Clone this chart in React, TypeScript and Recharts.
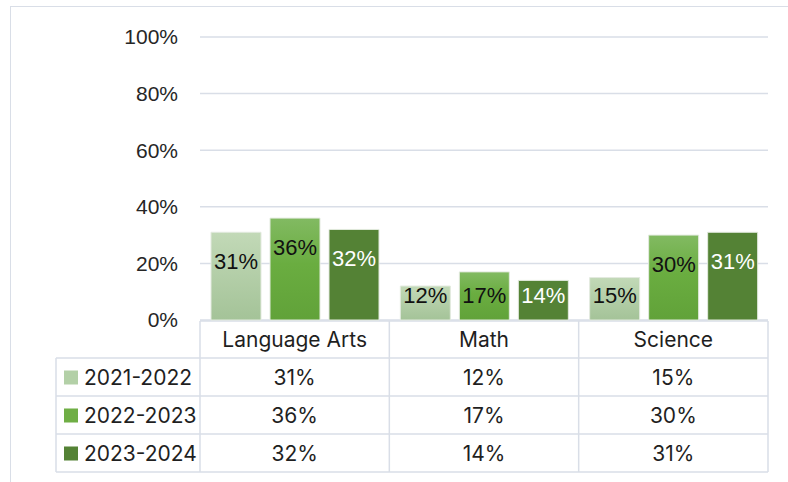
import React from "react";
import { BarChart, Bar, XAxis, YAxis, CartesianGrid, LabelList, Customized } from "recharts";

const subjects = ["Language Arts", "Math", "Science"];
const years = ["2021-2022", "2022-2023", "2023-2024"];
const y2122 = [31, 12, 15];
const y2223 = [36, 17, 30];
const y2324 = [32, 14, 31];
const yTicks = [0, 20, 40, 60, 80, 100];

const seriesValues = [y2122, y2223, y2324];
const seriesFill = ["url(#g1)", "url(#g2)", "#548235"];
const swatchFill = ["#b3d0a7", "#6fae45", "#548235"];
const labelColor = ["#111", "#111", "#fff"];

const data = subjects.map((s, i) => ({
  name: s,
  a: y2122[i],
  b: y2223[i],
  c: y2324[i],
}));

const W = 788;
const H = 482;
const M = { top: 37, right: 20, bottom: 162, left: 0 };
const AXIS_W = 200;
const LINE = "#d9dee7";
const TABLE_FONT = "Inter, 'Open Sans', sans-serif";

// bar value label, kept inside near the top
const makeLabel = (color: string) => (props: any) => {
  const { x, y, width, height, value } = props;
  const cy = Math.min(y + 29, y + height - 25);
  return (
    <text
      x={x + width / 2}
      y={cy}
      textAnchor="middle"
      dominantBaseline="central"
      fill={color}
      fontSize={22}
      fontFamily="'Liberation Sans', Arial, sans-serif"
    >
      {value}%
    </text>
  );
};

// data table under the plot
const DataTable = () => {
  const left = AXIS_W;
  const right = W - M.right;
  const top = H - M.bottom + 1;
  const colW = (right - left) / subjects.length;
  const headH = 37;
  const rowH = 38;
  const legL = 56;
  const rowsTop = top + headH;
  const bottom = rowsTop + rowH * years.length;
  const lines: React.ReactNode[] = [];

  lines.push(<line key="t" x1={left} x2={right} y1={top} y2={top} />);
  for (let r = 0; r <= years.length; r++) {
    const yy = rowsTop + r * rowH;
    lines.push(<line key={"h" + r} x1={legL} x2={right} y1={yy} y2={yy} />);
  }
  lines.push(<line key="vl" x1={legL} x2={legL} y1={rowsTop} y2={bottom} />);
  for (let c = 0; c <= subjects.length; c++) {
    const xx = left + c * colW;
    lines.push(<line key={"v" + c} x1={xx} x2={xx} y1={top} y2={bottom} />);
  }

  return (
    <g>
      <g stroke={LINE} strokeWidth={1.5}>{lines}</g>
      <g fontFamily={TABLE_FONT} fontSize={21} fill="#1f1f1f">
        {subjects.map((s, c) => (
          <text
            key={s}
            x={left + (c + 0.5) * colW}
            y={top + headH / 2}
            textAnchor="middle"
            dominantBaseline="central"
          >
            {s}
          </text>
        ))}
        {years.map((yr, r) => {
          const cy = rowsTop + (r + 0.5) * rowH;
          return (
            <g key={yr}>
              <rect x={64} y={cy - 6.5} width={14} height={14} fill={swatchFill[r]} />
              <text x={84} y={cy} dominantBaseline="central">
                {yr}
              </text>
              {seriesValues[r].map((v, c) => (
                <text
                  key={c}
                  x={left + (c + 0.5) * colW}
                  y={cy}
                  textAnchor="middle"
                  dominantBaseline="central"
                >
                  {v}%
                </text>
              ))}
            </g>
          );
        })}
      </g>
    </g>
  );
};

export default function App() {
  return (
    <div
      style={{
        position: "absolute",
        left: 0,
        top: 0,
        width: W,
        height: H,
        overflow: "hidden",
        background: "#fff",
      }}
    >
      <div
        style={{
          position: "absolute",
          left: 10,
          top: 6,
          width: 900,
          height: 600,
          borderLeft: `1.5px solid ${LINE}`,
          borderTop: `1.5px solid ${LINE}`,
        }}
      />
      <div style={{ position: "absolute", left: 0, top: 0 }}>
        <BarChart
          width={W}
          height={H}
          data={data}
          margin={M}
          barSize={50}
          barGap={9}
        >
          <defs>
            <linearGradient id="g1" x1="0" y1="0" x2="0" y2="1">
              <stop offset="0%" stopColor="#c2d9b7" />
              <stop offset="100%" stopColor="#a4c398" />
            </linearGradient>
            <linearGradient id="g2" x1="0" y1="0" x2="0" y2="1">
              <stop offset="0%" stopColor="#82ba62" />
              <stop offset="45%" stopColor="#6aad40" />
              <stop offset="100%" stopColor="#61a239" />
            </linearGradient>
          </defs>
          <CartesianGrid vertical={false} stroke={LINE} strokeWidth={1.5} />
          <XAxis dataKey="name" hide />
          <YAxis
            width={AXIS_W}
            domain={[0, 100]}
            ticks={yTicks}
            tickFormatter={(v: number) => `${v}%`}
            axisLine={false}
            tickLine={false}
            tickMargin={16}
            tick={{
              fill: "#262626",
              fontSize: 21,
              fontFamily: "'Liberation Sans', Arial, sans-serif",
            }}
          />
          {["a", "b", "c"].map((k, i) => (
            <Bar
              key={k}
              dataKey={k}
              name={years[i]}
              fill={seriesFill[i]}
              stroke="#e3eadf"
              strokeWidth={1}
              isAnimationActive={false}
            >
              <LabelList dataKey={k} content={makeLabel(labelColor[i])} />
            </Bar>
          ))}
          <Customized component={DataTable} />
        </BarChart>
      </div>
    </div>
  );
}
